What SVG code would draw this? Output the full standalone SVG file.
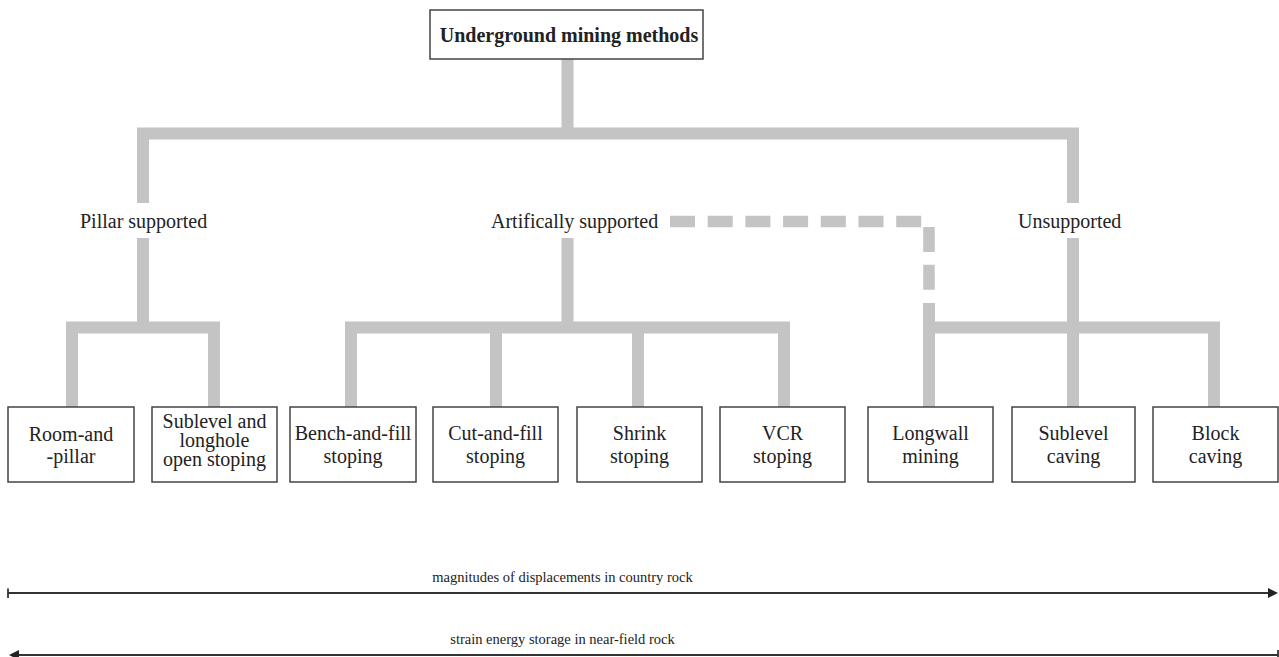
<svg xmlns="http://www.w3.org/2000/svg" width="1279" height="657" viewBox="0 0 1279 657">
  <style>
    .bg { fill: #ffffff; }
    .box { fill: #ffffff; stroke: #444444; stroke-width: 1.5; }
    .node-text { font-family: "Liberation Serif", "Times New Roman", serif; font-size: 20px; fill: #222222; text-anchor: middle; }
    .title-text { font-family: "Liberation Serif", "Times New Roman", serif; font-size: 20px; font-weight: bold; fill: #222222; text-anchor: middle; }
    .group-text { font-family: "Liberation Serif", "Times New Roman", serif; font-size: 20px; fill: #222222; }
    .axis-text { font-family: "Liberation Serif", "Times New Roman", serif; font-size: 14.5px; fill: #222222; text-anchor: middle; }
    .bar { fill: none; stroke: #c4c4c4; stroke-width: 12; stroke-linejoin: miter; stroke-linecap: butt; }
    .dash { fill: none; stroke: #c4c4c4; stroke-width: 11.5; stroke-dasharray: 25 12.7; }
    .axis { fill: none; stroke: #333333; stroke-width: 1.8; }
  </style>
  <defs>
    <marker id="arrow" viewBox="0 0 10 10" refX="0" refY="5" markerWidth="10" markerHeight="10" markerUnits="userSpaceOnUse" orient="auto">
      <path d="M0,0 L10,5 L0,10 Z" fill="#222222"/>
    </marker>
  </defs>

  <rect class="bg" x="0" y="0" width="1279" height="657"/>

  <!-- tree connectors -->
  <g id="connectors">
    <path class="bar" d="M567.5,59 V133.5"/>
    <path class="bar" d="M143,203 V133.5 H1073 V203"/>
    <!-- pillar supported branch -->
    <path class="bar" d="M143,238 V327.5"/>
    <path class="bar" d="M72,407 V327.5 H214 V407"/>
    <!-- artificially supported branch -->
    <path class="bar" d="M567.5,238 V327.5"/>
    <path class="bar" d="M351,407 V327.5 H784 V407"/>
    <path class="bar" d="M496,327.5 V407"/>
    <path class="bar" d="M638,327.5 V407"/>
    <!-- unsupported branch -->
    <path class="bar" d="M1073,238 V407"/>
    <path class="bar" d="M929,303 V407"/>
    <path class="bar" d="M929,327.5 H1214 V407"/>
    <!-- dashed link to longwall mining -->
    <path class="dash" d="M670,221.5 H922"/>
    <path class="dash" d="M929,227 V291"/>
  </g>

  <g id="root">
    <rect class="box" x="430" y="10" width="273" height="49"/>
    <text class="title-text" font-family="Liberation Serif, serif" x="569" y="42">Underground mining methods</text>
  </g>

  <g id="pillar-supported">
    <text class="group-text" x="80" y="228">Pillar supported</text>
  </g>
  <g id="artificially-supported">
    <text class="group-text" x="491" y="228">Artifically supported</text>
  </g>
  <g id="unsupported">
    <text class="group-text" x="1018" y="228">Unsupported</text>
  </g>

  <g id="room-and-pillar">
    <rect class="box" x="8" y="407" width="126" height="75"/>
    <text class="node-text" x="71" y="441">Room-and</text>
    <text class="node-text" x="71" y="463">-pillar</text>
  </g>
  <g id="sublevel-open-stoping">
    <rect class="box" x="152" y="407" width="125" height="75"/>
    <text class="node-text" x="214.5" y="428">Sublevel and</text>
    <text class="node-text" x="214.5" y="447">longhole</text>
    <text class="node-text" x="214.5" y="466">open stoping</text>
  </g>
  <g id="bench-and-fill">
    <rect class="box" x="290" y="407" width="126" height="75"/>
    <text class="node-text" x="353" y="440">Bench-and-fill</text>
    <text class="node-text" x="353" y="463">stoping</text>
  </g>
  <g id="cut-and-fill">
    <rect class="box" x="433" y="407" width="125" height="75"/>
    <text class="node-text" x="495.5" y="440">Cut-and-fill</text>
    <text class="node-text" x="495.5" y="463">stoping</text>
  </g>
  <g id="shrink">
    <rect class="box" x="577" y="407" width="125" height="75"/>
    <text class="node-text" x="639.5" y="440">Shrink</text>
    <text class="node-text" x="639.5" y="463">stoping</text>
  </g>
  <g id="vcr">
    <rect class="box" x="720" y="407" width="125" height="75"/>
    <text class="node-text" x="782.5" y="440">VCR</text>
    <text class="node-text" x="782.5" y="463">stoping</text>
  </g>
  <g id="longwall">
    <rect class="box" x="868" y="407" width="125" height="75"/>
    <text class="node-text" x="930.5" y="440">Longwall</text>
    <text class="node-text" x="930.5" y="463">mining</text>
  </g>
  <g id="sublevel-caving">
    <rect class="box" x="1012" y="407" width="123" height="75"/>
    <text class="node-text" x="1073.5" y="440">Sublevel</text>
    <text class="node-text" x="1073.5" y="463">caving</text>
  </g>
  <g id="block-caving">
    <rect class="box" x="1153" y="407" width="125" height="75"/>
    <text class="node-text" x="1215.5" y="440">Block</text>
    <text class="node-text" x="1215.5" y="463">caving</text>
  </g>

  <!-- trend axes -->
  <g id="axes">
    <text class="axis-text" x="562.5" y="582">magnitudes of displacements in country rock</text>
    <path class="axis" d="M8,593 H1268" marker-end="url(#arrow)"/>
    <path class="axis" d="M8,588.5 V598"/>
    <text class="axis-text" x="562.5" y="644">strain energy storage in near-field rock</text>
    <path class="axis" d="M1278,655 H19" marker-end="url(#arrow)"/>
    <path class="axis" d="M1278,650 V657"/>
  </g>
</svg>
